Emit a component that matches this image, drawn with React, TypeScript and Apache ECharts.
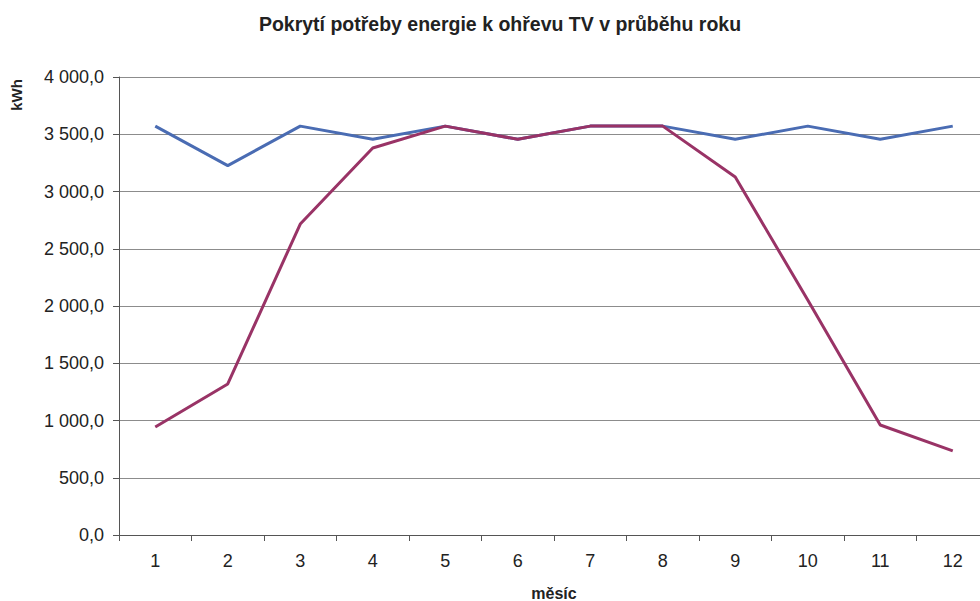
import React, { useEffect, useRef } from "react";
import * as echarts from "echarts";

const months = ["1", "2", "3", "4", "5", "6", "7", "8", "9", "10", "11", "12"];
const demand = [3571, 3226, 3571, 3456, 3571, 3456, 3571, 3571, 3456, 3571, 3456, 3571];
const covered = [943, 1319, 2716, 3380, 3571, 3456, 3571, 3571, 3127, 2052, 961, 734];

const fmt = (v: number) => {
  const s = v.toFixed(1).replace(".", ",");
  const [i, d] = s.split(",");
  return i.replace(/\B(?=(\d{3})+(?!\d))/g, " ") + "," + d;
};

export default function App() {
  const ref = useRef<HTMLDivElement>(null);
  useEffect(() => {
    const chart = echarts.init(ref.current!, undefined, { renderer: "svg" });
    const font = "Arial, 'Liberation Sans', sans-serif";
    chart.setOption({
      animation: false,
      backgroundColor: "#ffffff",
      title: {
        text: "Pokrytí potřeby energie k ohřevu TV v průběhu roku",
        left: 495,
        top: 9,
        textAlign: "center",
        textStyle: { fontFamily: font, fontSize: 19.5, fontWeight: "bold", color: "#222" },
      },
      graphic: [
        {
          type: "text",
          x: 16,
          y: 95,
          rotation: Math.PI / 2,
          style: {
            text: "kWh",
            fontFamily: font,
            fontSize: 15,
            fontWeight: "bold",
            fill: "#222",
            align: "center",
            verticalAlign: "middle",
          },
        },
      ],
      grid: { left: 119, top: 77, width: 870, height: 458, containLabel: false, outerBoundsMode: "none" },
      xAxis: {
        type: "category",
        data: months,
        boundaryGap: true,
        name: "měsíc",
        nameLocation: "middle",
        nameGap: 50,
        nameTextStyle: { fontFamily: font, fontSize: 16, fontWeight: "bold", color: "#222" },
        axisLine: { lineStyle: { color: "#555", width: 1 } },
        axisTick: { show: true, length: 6, inside: false, lineStyle: { color: "#555" } },
        axisLabel: { fontFamily: font, fontSize: 18, color: "#222", margin: 17 },
        splitLine: { show: false },
      },
      yAxis: {
        type: "value",
        min: 0,
        max: 4000,
        interval: 500,
        axisLine: { show: true, lineStyle: { color: "#555", width: 1 } },
        axisTick: { show: true, length: 6, lineStyle: { color: "#555" } },
        axisLabel: { fontFamily: font, fontSize: 18, color: "#222", margin: 15, formatter: fmt },
        splitLine: { show: true, lineStyle: { color: "#8c8c8c", width: 1 } },
      },
      series: [
        {
          name: "potřeba",
          type: "line",
          data: demand,
          symbol: "none",
          lineStyle: { color: "#4a6cb3", width: 3 },
          itemStyle: { color: "#4a6cb3" },
        },
        {
          name: "pokrytí",
          type: "line",
          data: covered,
          symbol: "none",
          lineStyle: { color: "#993366", width: 3 },
          itemStyle: { color: "#993366" },
        },
      ],
    });
    return () => chart.dispose();
  }, []);
  return (
    <div
      ref={ref}
      style={{ position: "fixed", left: 0, top: 0, width: 980, height: 601 }}
    />
  );
}
